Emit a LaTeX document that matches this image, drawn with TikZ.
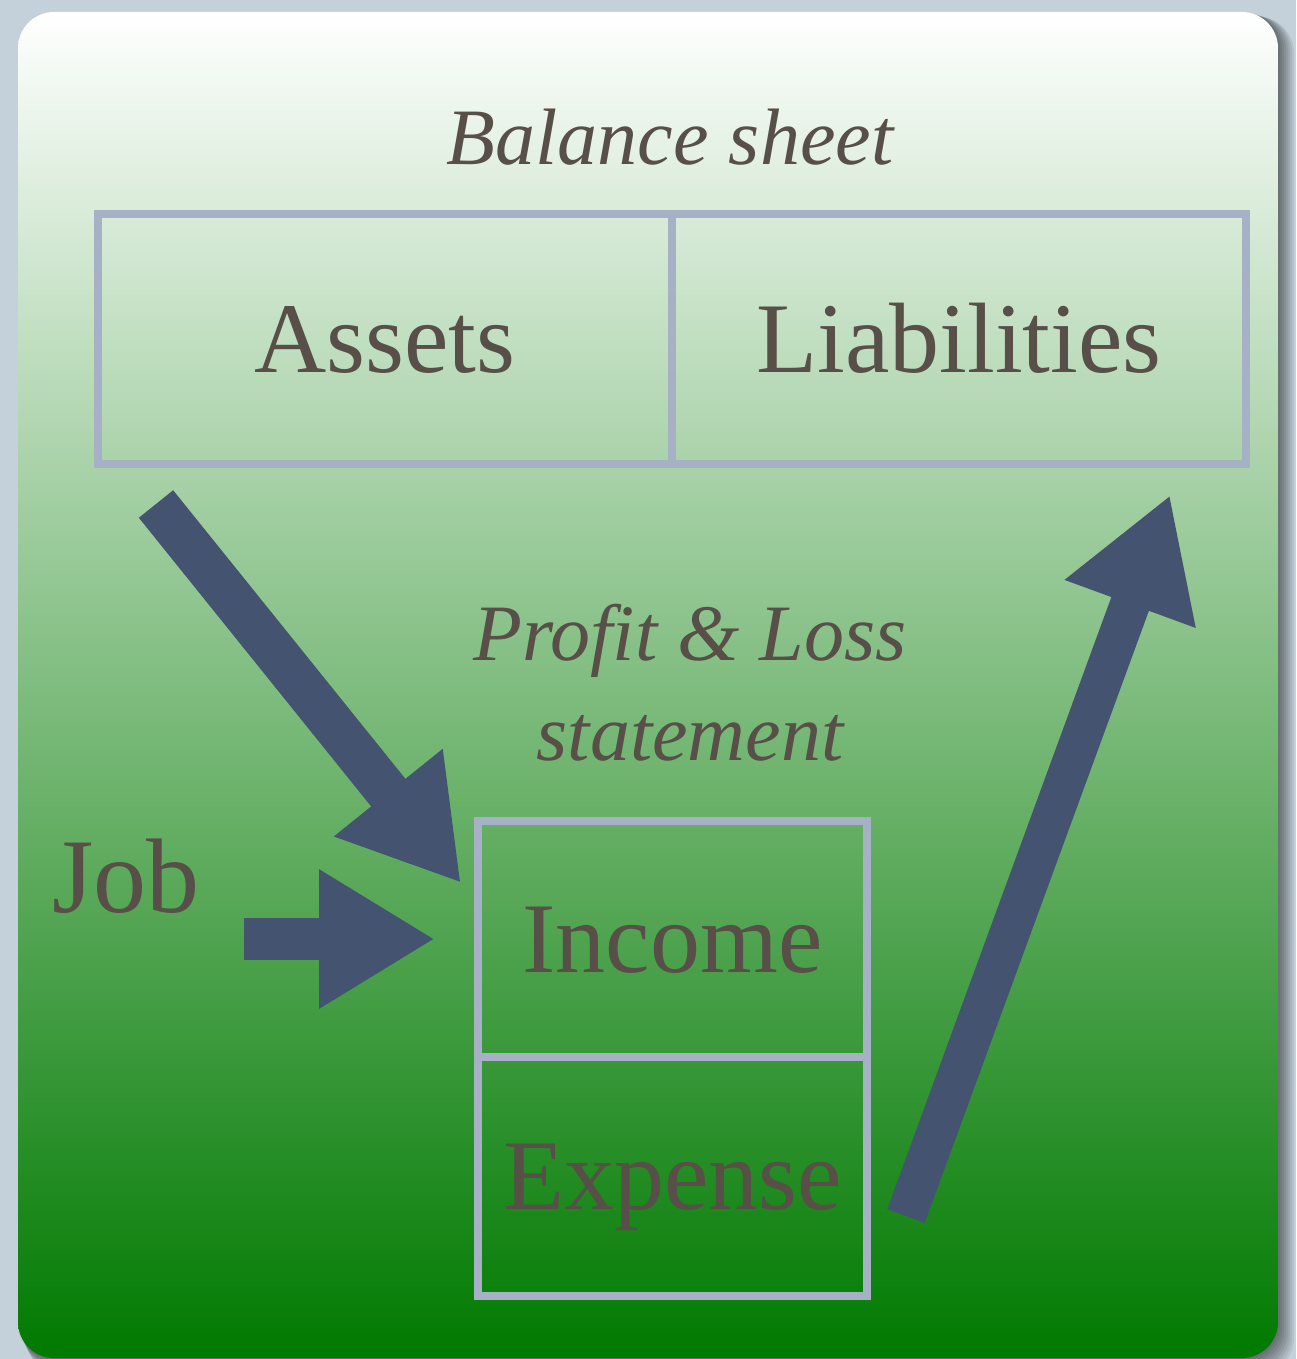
\documentclass[tikz,border=0pt]{standalone}
\usepackage{fontspec}
\setmainfont{Liberation Serif}
\usetikzlibrary{arrows.meta,positioning}

\definecolor{bgblue}{RGB}{196,209,219}
\definecolor{sheetgreen}{RGB}{0,122,0}
\definecolor{framegray}{RGB}{166,177,198}
\definecolor{flowblue}{RGB}{68,84,112}
\definecolor{inkbrown}{RGB}{87,79,72}

\tikzset{
  account/.style={draw=framegray, line width=8pt, inner sep=0pt, outer sep=0pt,
    text=inkbrown, font=\fontsize{100}{115}\selectfont, text height=66pt, text depth=0pt},
  heading/.style={text=inkbrown, inner sep=0pt, font=\itshape\fontsize{80}{95}\selectfont},
  flow/.style={draw=flowblue, line width=#1, -{Triangle[length=116pt,width=131pt]}},
}

\begin{document}
\begin{tikzpicture}[x=1pt, y=-1pt]
\useasboundingbox (0,0) rectangle (1296,1359);

% Backdrop and card
\fill[bgblue] (0,0) rectangle (1296,1359);
\foreach \s in {2,4,...,16} {
  \fill[black, opacity=0.07, rounded corners=36pt] (18+0.5*\s,12+0.3*\s) rectangle (1278+\s,1358+\s);
}
\shade[rounded corners=36pt, top color=white, bottom color=sheetgreen] (18,12) rectangle (1278,1358);

% Balance sheet
\node[heading, anchor=base] (balance) at (670,165) {Balance sheet};
\node[account, minimum width=574pt, minimum height=250pt] (assets) at (385,339) {Assets};
\node[account, minimum width=574pt, minimum height=250pt, right=0pt of assets] (liabilities) {Liabilities};

% Profit & Loss statement
\node[heading, anchor=base] (profit) at (690,660) {Profit \& Loss};
\node[heading, anchor=base] (statement) at (690,760) {statement};
\node[account, minimum width=389pt, minimum height=236pt] (income) at (672.5,939) {Income};
\node[account, minimum width=389pt, minimum height=239pt, below=0pt of income] (expense) {Expense};

% Job
\node[text=inkbrown, inner sep=0pt, anchor=base west, font=\fontsize{106}{120}\selectfont] (job) at (52,912) {Job};

% Flows
\coordinate (assets-out) at (156,504);
\coordinate (income-in) at (461,883);
\coordinate (job-out) at (244,939);
\coordinate (job-in) at (435,939);
\coordinate (expense-out) at (906,1216);
\coordinate (liabilities-in) at (1170,495);
\draw[flow=44pt] (assets-out) -- (income-in);
\draw[flow=42pt] (job-out) -- (job-in);
\draw[flow=40pt] (expense-out) -- (liabilities-in);
\end{tikzpicture}
\end{document}
